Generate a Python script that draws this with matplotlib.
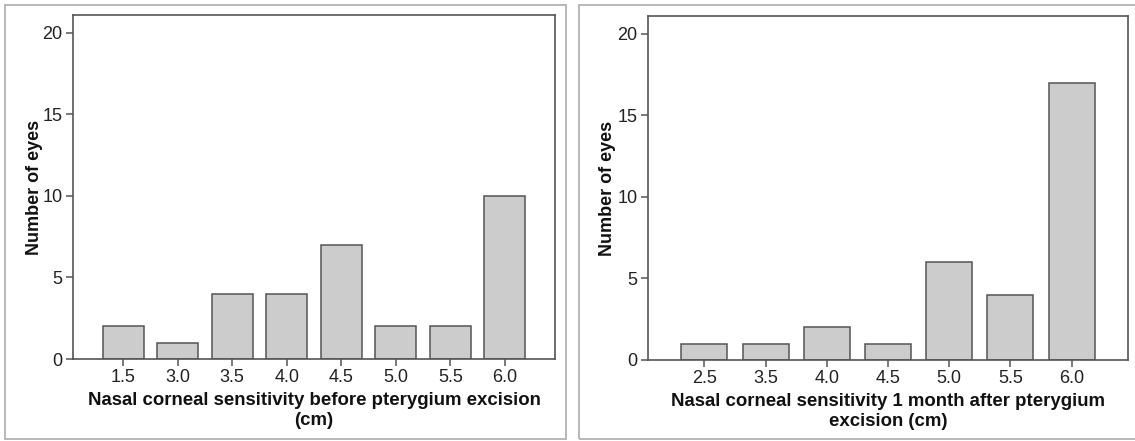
import matplotlib.pyplot as plt
from matplotlib.patches import Rectangle

plt.rcParams['font.family'] = ['Liberation Sans', 'DejaVu Sans']

before_labels = ['1.5', '3.0', '3.5', '4.0', '4.5', '5.0', '5.5', '6.0']
before_counts = [2, 1, 4, 4, 7, 2, 2, 10]

after_labels = ['2.5', '3.5', '4.0', '4.5', '5.0', '5.5', '6.0']
after_counts = [1, 1, 2, 1, 6, 4, 17]

W, H = 1135, 441
fig = plt.figure(figsize=(W / 100, H / 100), dpi=100)

def px_box(x0, y0, x1, y1):
    # pixel box (from top-left) -> figure fraction [l, b, w, h]
    return [x0 / W, 1 - y1 / H, (x1 - x0) / W, (y1 - y0) / H]

# grey panel frames
for x0, x1 in [(5, 566), (579, 1145)]:
    fig.patches.append(Rectangle((x0 / W, 1 - 439 / H), (x1 - x0) / W, 434 / H,
                                 transform=fig.transFigure, fill=False,
                                 edgecolor='#b8b8b8', linewidth=1.4))

def draw_panel(box, labels, counts, xlabel, ylab_x):
    ax = fig.add_axes(px_box(*box))
    pos = list(range(len(labels)))
    ax.bar(pos, counts, width=0.75, color='#cccccc', edgecolor='#555555',
           linewidth=1.1)
    ax.set_xlim(-0.92, len(labels) - 1 + 0.92)
    ax.set_ylim(0, 21.1)
    ax.set_yticks([0, 5, 10, 15, 20])
    ax.set_xticks(pos)
    ax.set_xticklabels(labels)
    for s in ax.spines.values():
        s.set_color('#555555')
        s.set_linewidth(1.2)
    ax.tick_params(axis='both', direction='out', length=5, width=1.1,
                   color='#555555', labelsize=13, labelcolor='#222222', pad=2.5)
    ax.set_xlabel(xlabel, fontsize=13.4, fontweight='bold', color='#111111',
                  linespacing=1.25, labelpad=4)
    ax.set_ylabel('Number of eyes', fontsize=13, fontweight='bold',
                  color='#111111')
    ax.yaxis.set_label_coords(ylab_x, 0.5)
    return ax

draw_panel((73, 15, 555, 359), before_labels, before_counts,
           'Nasal corneal sensitivity before pterygium excision\n(cm)', -0.062)
draw_panel((648, 16, 1128, 360), after_labels, after_counts,
           'Nasal corneal sensitivity 1 month after pterygium\nexcision (cm)', -0.066)

fig.savefig('out.png', dpi=100)
